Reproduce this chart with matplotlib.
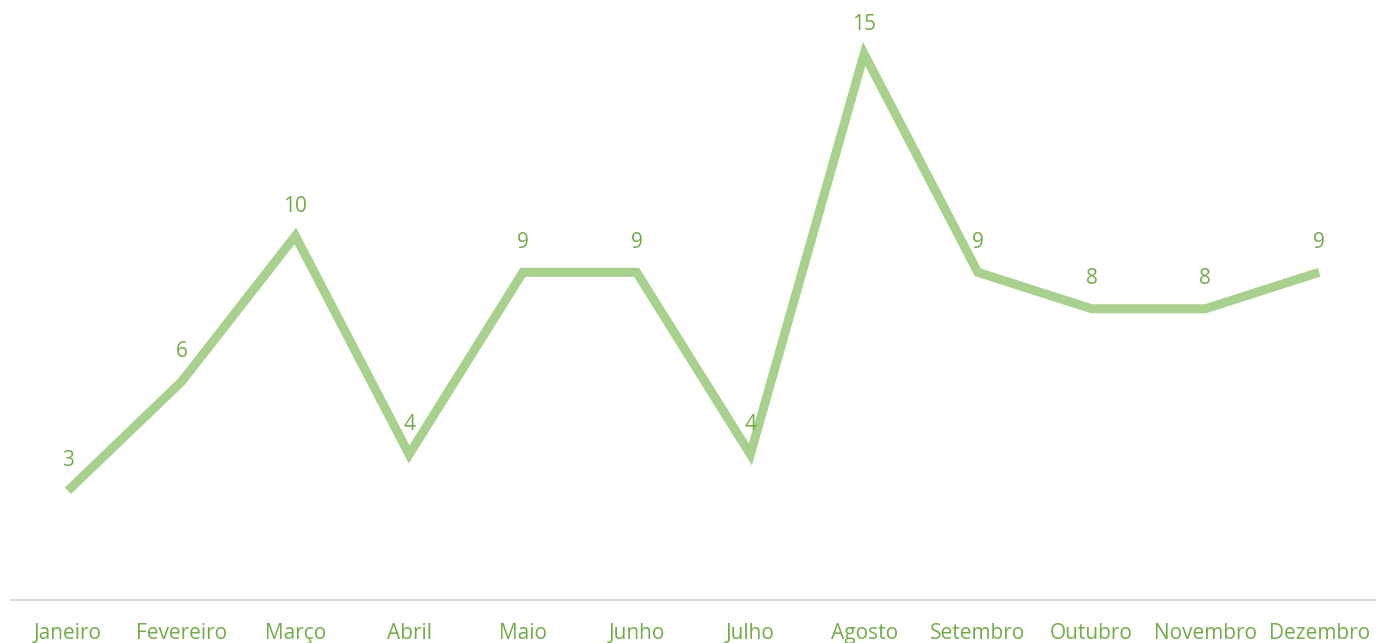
import matplotlib.pyplot as plt

meses = ['Janeiro', 'Fevereiro', 'Março', 'Abril', 'Maio', 'Junho', 'Julho',
         'Agosto', 'Setembro', 'Outubro', 'Novembro', 'Dezembro']
valores = [3, 6, 10, 4, 9, 9, 4, 15, 9, 8, 8, 9]

plt.rcParams['font.family'] = ['Open Sans', 'DejaVu Sans']

fig = plt.figure(figsize=(13.76, 6.43), dpi=100)
ax = fig.add_axes([11 / 1376, 43 / 643, 1 - 11 / 1376, 1 - 43 / 643])

x = range(len(meses))
ax.plot(x, valores, color='#A9D18E', linewidth=6.5, solid_joinstyle='miter', solid_capstyle='butt')

# rótulos de dados acima de cada ponto
for i, v in zip(x, valores):
    ax.annotate(str(v), (i, v), xytext=(0, 21.5), textcoords='offset points',
                ha='center', va='center', fontsize=15, color='#70AD47')

ax.set_xlim(-0.5, len(meses) - 0.5)
ax.set_ylim(0, 16.48)
ax.set_xticks(list(x))
ax.set_xticklabels(meses, fontsize=15, color='#70AD47')
ax.tick_params(axis='x', length=0, pad=16.5)
ax.set_yticks([])
for s in ['top', 'left', 'right']:
    ax.spines[s].set_visible(False)
ax.spines['bottom'].set_color('#D9D9D9')
ax.spines['bottom'].set_linewidth(1.5)

fig.savefig('out.png', dpi=100)
